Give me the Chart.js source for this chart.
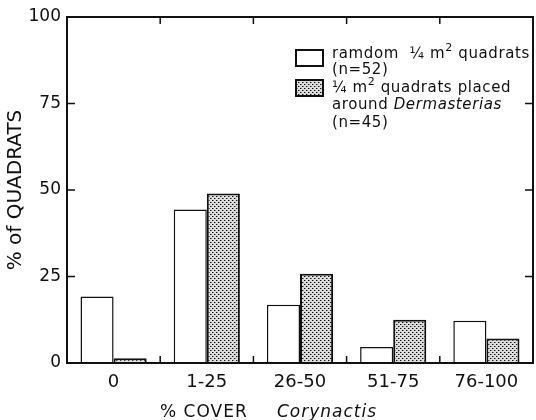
<!DOCTYPE html>
<html>
<head>
<meta charset="utf-8">
<script src="https://cdn.jsdelivr.net/npm/chart.js@4"></script>
<style>
body { margin: 0; background: #fff; }
#wrap { width: 536px; height: 420px; }
</style>
</head>
<body>
<div id="wrap"><canvas id="coverChart"></canvas></div>
<script>
const categories = ['0', '1-25', '26-50', '51-75', '76-100'];
const randomQuadrats = [19.2, 44.4, 16.8, 4.6, 12.2];
const dermasteriasQuadrats = [1.4, 49, 25.8, 12.5, 7.1];
const yTicks = [0, 25, 50, 75, 100];

const FONT = "'DejaVu Sans', sans-serif";

// stippled fill for the second series
function stipple() {
    const c = document.createElement('canvas');
    c.width = 4; c.height = 4;
    const g = c.getContext('2d');
    g.fillStyle = '#dcdcdc';
    g.fillRect(0, 0, 4, 4);
    g.fillStyle = '#111';
    g.fillRect(0, 0, 1, 1);
    g.fillRect(2, 2, 1, 1);
    g.fillStyle = '#888';
    g.fillRect(1, 0, 1, 1);
    g.fillRect(3, 2, 1, 1);
    return g.createPattern(c, 'repeat');
}
const dots = stipple();

// frame with inward ticks on all four sides
const framePlugin = {
    id: 'frame',
    afterDatasetsDraw(chart) {
        const { ctx, chartArea: a, scales: { x, y } } = chart;
        ctx.save();
        ctx.strokeStyle = '#111';
        ctx.lineWidth = 2;
        ctx.strokeRect(a.left, a.top, a.right - a.left, a.bottom - a.top);
        ctx.lineWidth = 1.5;
        ctx.beginPath();
        yTicks.slice(1, -1).forEach(v => {
            const py = y.getPixelForValue(v);
            ctx.moveTo(a.left, py); ctx.lineTo(a.left + 8, py);
            ctx.moveTo(a.right, py); ctx.lineTo(a.right - 8, py);
        });
        for (let i = 0; i < categories.length - 1; i++) {
            const px = (x.getPixelForValue(i) + x.getPixelForValue(i + 1)) / 2;
            ctx.moveTo(px, a.top); ctx.lineTo(px, a.top + 7);
            ctx.moveTo(px, a.bottom); ctx.lineTo(px, a.bottom - 7);
        }
        ctx.stroke();
        ctx.restore();
    }
};

// legend and x title with mixed italic / superscript text
function drawRuns(ctx, runs, x, y, size) {
    let cx = x;
    runs.forEach(r => {
        const s = r.sup ? Math.round(size * 0.75) : size;
        ctx.font = (r.it ? 'italic ' : '') + s + 'px ' + FONT;
        ctx.fillText(r.t, cx, r.sup ? y - 7 : y);
        cx += ctx.measureText(r.t).width;
    });
    return cx;
}

const textPlugin = {
    id: 'texts',
    afterDraw(chart) {
        const ctx = chart.ctx;
        ctx.save();
        ctx.textBaseline = 'alphabetic';
        ctx.textAlign = 'left';

        // legend boxes
        ctx.lineWidth = 2;
        ctx.strokeStyle = '#111';
        ctx.fillStyle = '#fff';
        ctx.fillRect(296, 50, 27, 16);
        ctx.strokeRect(296, 50, 27, 16);
        ctx.fillStyle = dots;
        ctx.fillRect(296, 80, 27, 16);
        ctx.strokeRect(296, 80, 27, 16);

        ctx.fillStyle = '#111';
        ctx.letterSpacing = '0.6px';
        drawRuns(ctx, [{ t: 'ramdom  ¼ m' }, { t: '2', sup: true }, { t: ' quadrats' }], 332, 58, 15);
        drawRuns(ctx, [{ t: '(n=52)' }], 332, 74, 15);
        drawRuns(ctx, [{ t: '¼ m' }, { t: '2', sup: true }, { t: ' quadrats placed' }], 332, 92, 15);
        drawRuns(ctx, [{ t: 'around ' }, { t: 'Dermasterias', it: true }], 332, 109, 15);
        drawRuns(ctx, [{ t: '(n=45)' }], 332, 127, 15);

        // x axis title
        ctx.letterSpacing = '1px';
        ctx.font = '17px ' + FONT;
        ctx.fillText('% COVER', 160, 417);
        ctx.font = 'italic 17px ' + FONT;
        ctx.fillText('Corynactis', 277, 417);
        ctx.restore();
    }
};

new Chart(document.getElementById('coverChart').getContext('2d'), {
    type: 'bar',
    data: {
        labels: categories,
        datasets: [{
            label: 'ramdom 1/4 m2 quadrats (n=52)',
            data: randomQuadrats,
            backgroundColor: '#fff',
            borderColor: '#111',
            borderWidth: 1.5
        }, {
            label: '1/4 m2 quadrats placed around Dermasterias (n=45)',
            data: dermasteriasQuadrats,
            backgroundColor: dots,
            borderColor: '#111',
            borderWidth: 2
        }]
    },
    options: {
        responsive: true,
        maintainAspectRatio: false,
        animation: false,
        layout: { padding: { top: 17, right: 3, left: 0, bottom: 0 } },
        datasets: { bar: { barPercentage: 1, categoryPercentage: 0.71 } },
        plugins: { legend: { display: false }, tooltip: { enabled: false } },
        scales: {
            x: {
                grid: { display: false, drawTicks: false },
                border: { display: false },
                ticks: { color: '#111', padding: 9, font: { family: FONT, size: 18 } },
                afterFit(s) { s.height = 57; }
            },
            y: {
                min: 0,
                max: 100,
                afterBuildTicks(s) { s.ticks = yTicks.map(v => ({ value: v })); },
                grid: { display: false, drawTicks: false },
                border: { display: false },
                ticks: { color: '#111', padding: 6, font: { family: FONT, size: 17 } },
                title: {
                    display: true,
                    text: '% of QUADRATS',
                    color: '#111',
                    padding: { top: 4, bottom: 0 },
                    font: { family: FONT, size: 20 }
                },
                afterFit(s) { s.width = 67; }
            }
        }
    },
    plugins: [framePlugin, textPlugin]
});
</script>
</body>
</html>
